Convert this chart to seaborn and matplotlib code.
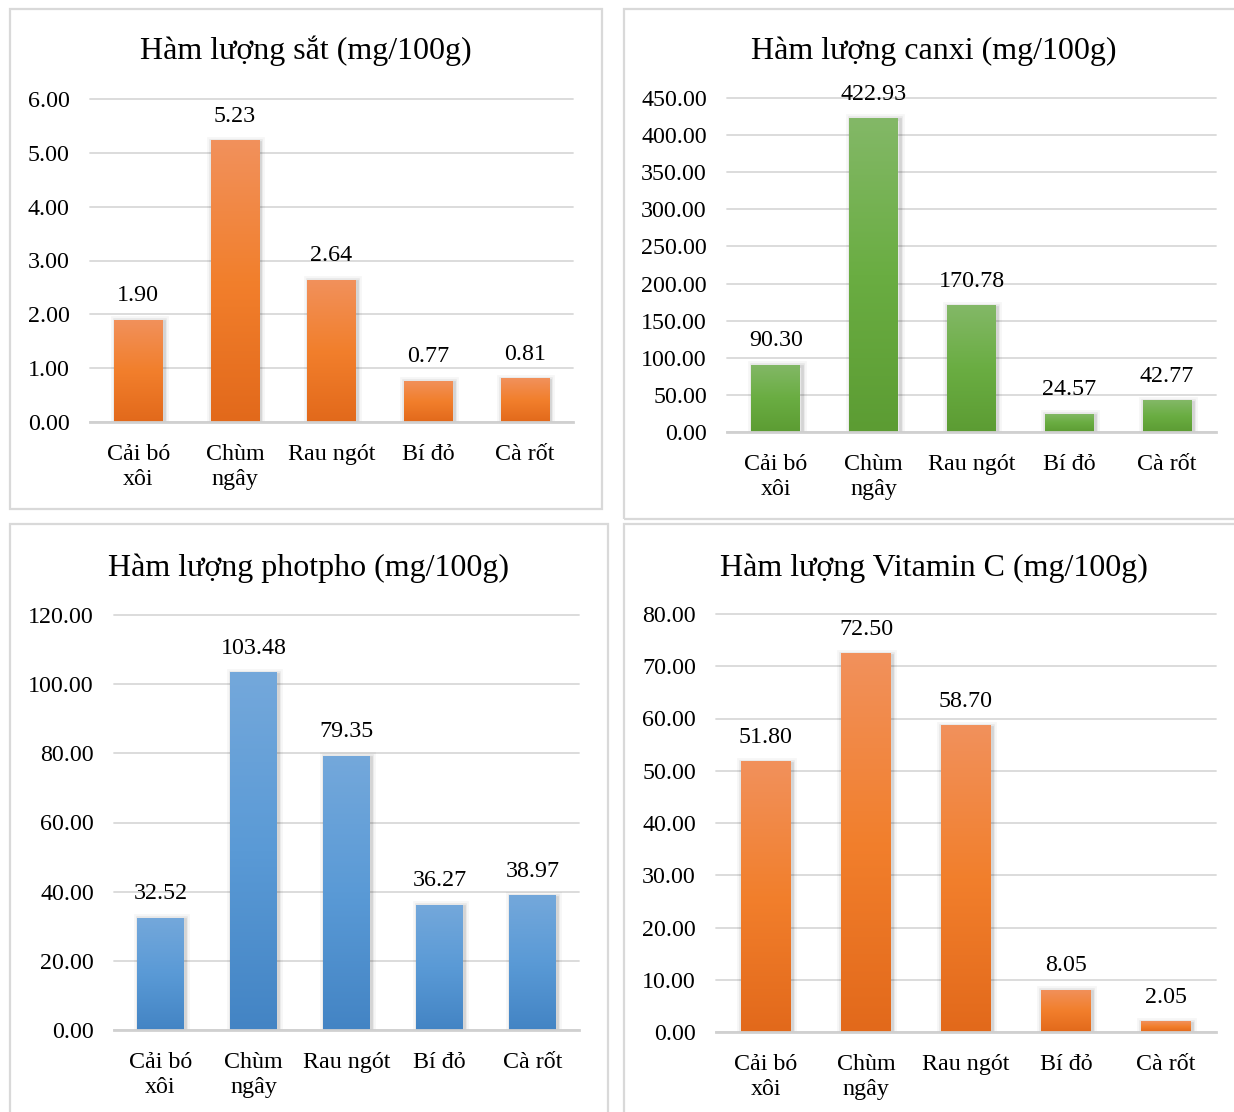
import numpy as np
import pandas as pd
import matplotlib
matplotlib.use("Agg")
import matplotlib.pyplot as plt
import seaborn as sns
from matplotlib.colors import LinearSegmentedColormap
from matplotlib.patches import Rectangle
from matplotlib import patheffects as pe

# ---- data -------------------------------------------------------------
categories = ["Cải bó\nxôi", "Chùm\nngây", "Rau ngót", "Bí đỏ", "Cà rốt"]
sat = [1.90, 5.23, 2.64, 0.77, 0.81]
canxi = [90.30, 422.93, 170.78, 24.57, 42.77]
photpho = [32.52, 103.48, 79.35, 36.27, 38.97]
vitamin_c = [51.80, 72.50, 58.70, 8.05, 2.05]

titles = [
    "Hàm lượng sắt (mg/100g)",
    "Hàm lượng canxi (mg/100g)",
    "Hàm lượng photpho (mg/100g)",
    "Hàm lượng Vitamin C (mg/100g)",
]
y_max = [6, 450, 120, 80]
y_step = [1, 50, 20, 10]

# ---- style ------------------------------------------------------------
sns.set_theme(style="white")
plt.rcParams["font.family"] = ["Liberation Serif", "DejaVu Serif"]
plt.rcParams["text.color"] = "black"

W, H = 1234, 1112
fig = plt.figure(figsize=(W / 100, H / 100), dpi=100)
fig.patch.set_facecolor("white")

FS = 17.3
GRID = "#D9D9D9"

orange = LinearSegmentedColormap.from_list("orange", ["#E2691B", "#F27F2C", "#F1915C"])
green = LinearSegmentedColormap.from_list("green", ["#5C9C33", "#6AAD42", "#83B867"])
blue = LinearSegmentedColormap.from_list("blue", ["#4384C4", "#5A9AD6", "#74A8DB"])


def px_rect(x0, x1, ytop, ybot):
    return [x0 / W, 1 - ybot / H, (x1 - x0) / W, (ybot - ytop) / H]


# chart frames (x0, y0, x1, y1) in pixels
frames = [(10, 9, 602, 509), (624, 9, 1245, 519), (10, 524, 608, 1125), (624, 524, 1245, 1125)]
for x0, y0, x1, y1 in frames:
    fig.add_artist(Rectangle((x0 / W, 1 - y1 / H), (x1 - x0) / W, (y1 - y0) / H,
                             transform=fig.transFigure, fill=False,
                             edgecolor=GRID, linewidth=1.6))

# plot areas
areas = [(90, 573, 99, 422), (727, 1216, 98, 432), (114, 579, 615, 1030), (716, 1216, 614, 1032)]
title_pos = [(306, 51), (934, 51), (309, 568), (934, 568)]
series = [sat, canxi, photpho, vitamin_c]
cmaps = [orange, green, blue, orange]

for i in range(4):
    ax = fig.add_axes(px_rect(*areas[i]))
    df = pd.DataFrame({"cat": categories, "val": series[i]})
    sns.barplot(data=df, x="cat", y="val", order=categories, ax=ax,
                width=0.5, color="#F27F2C", saturation=1, zorder=3)

    ymax = y_max[i]
    ax.set_ylim(0, ymax)
    ax.set_xlim(-0.5, len(categories) - 0.5)
    ax.set_yticks(np.arange(0, ymax + y_step[i] / 2, y_step[i]))
    ax.set_yticklabels([f"{t:.2f}" for t in ax.get_yticks()], fontsize=FS)
    ax.set_xlabel("")
    ax.set_ylabel("")

    # gradient fill + soft shadow for each bar
    for bar in ax.patches:
        x, y = bar.get_x(), bar.get_y()
        w, h = bar.get_width(), bar.get_height()
        grad = np.linspace(1, 0, 256).reshape(-1, 1)
        im = ax.imshow(grad, cmap=cmaps[i], aspect="auto", origin="upper",
                       extent=[x, x + w, y, y + h], zorder=3.5, interpolation="bilinear")
        im.set_clip_path(bar)
        bar.set_facecolor("none")
        bar.set_path_effects([
            pe.Stroke(linewidth=7, foreground="black", alpha=0.035, offset=(1, -1)),
            pe.Stroke(linewidth=4, foreground="black", alpha=0.06, offset=(1, -1)),
            pe.Stroke(linewidth=2, foreground="black", alpha=0.08, offset=(1, -1)),
        ])
        bar.set_edgecolor("#00000000")
        ax.annotate(f"{h:.2f}", xy=(x + w / 2, h), xytext=(0, 17.3),
                    textcoords="offset points", ha="center", va="center",
                    fontsize=FS, color="black", annotation_clip=False)
    ax.set_ylim(0, ymax)
    ax.set_xlim(-0.5, len(categories) - 0.5)

    # grid and axis styling
    ax.grid(axis="y", color=GRID, linewidth=1.3, zorder=0)
    ax.grid(axis="x", visible=False)
    for gl in ax.get_ygridlines():
        gl.set_clip_on(False)
    for side in ["top", "right", "left"]:
        ax.spines[side].set_visible(False)
    ax.spines["bottom"].set_color("#D0D0D0")
    ax.spines["bottom"].set_linewidth(2.0)
    ax.spines["bottom"].set_zorder(4)
    ax.tick_params(axis="y", length=0, pad=14.5, labelsize=FS, labelcolor="black")
    ax.tick_params(axis="x", length=0, pad=16.0, labelsize=FS, labelcolor="black")
    for lab in ax.get_xticklabels():
        lab.set_linespacing(1.22)
    if i == 0:
        ax.set_xticks(np.arange(-0.5, len(categories)), minor=True)
        ax.tick_params(axis="x", which="minor", length=4.5, width=1.5,
                       color="#D0D0D0", direction="out")
    ax.set_facecolor("none")

    tx, ty = title_pos[i]
    fig.text(tx / W, 1 - ty / H, titles[i], ha="center", va="center", fontsize=23)

fig.savefig("out.png", dpi=100, facecolor="white")
